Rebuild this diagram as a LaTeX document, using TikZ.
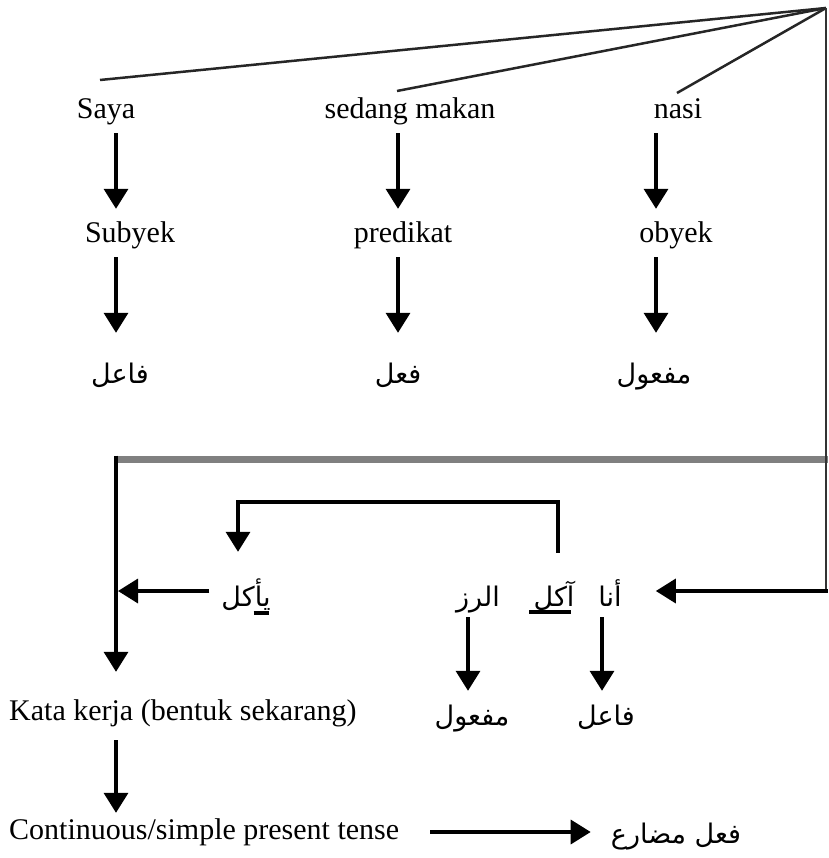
\documentclass[tikz,border=0pt]{standalone}
\usepackage{fontspec}
\setmainfont{Liberation Serif}
\newfontfamily\arabicfont[Script=Arabic]{DejaVu Sans}
\TeXXeTstate=1
\usetikzlibrary{arrows.meta,calc}
\begin{document}
\begin{tikzpicture}[x=1pt,y=-1pt,
  lat/.style={font=\fontsize{30}{34}\selectfont, inner sep=0pt, text height=21pt, text depth=7pt, anchor=base},
  ar/.style={font=\arabicfont\fontsize{27}{31}\selectfont, inner sep=0pt, text height=20pt, text depth=8pt, anchor=base},
  arr/.style={line width=3.5pt, -{Triangle[length=20pt,width=24pt]}},
  slant/.style={line width=2.5pt, black!85},
  uline/.style={line width=3.5pt},
  ]
\useasboundingbox (0,0) rectangle (828,858);
% column coordinates
\coordinate (cA) at (116,0);
\coordinate (cB) at (398,0);
\coordinate (cC) at (656,0);
\coordinate (cY) at (238,0);
\coordinate (cK) at (558,0);
\coordinate (cR) at (468,0);
\coordinate (cN) at (602,0);
\coordinate (top) at (826,8);
\coordinate (tS) at (100,80);
\coordinate (tM) at (397,91);
\coordinate (tN) at (677,93);
\coordinate (ghL) at (116,459);
\coordinate (ghR) at (828,459);
\coordinate (rc) at (826,591);
\coordinate (br) at (0,502);
% row 1
\node[lat] (saya) at (106,119) {Saya};
\node[lat] (sedang) at (410,119) {sedang makan};
\node[lat] (nasi) at (678,119) {nasi};
% row 2
\node[lat] (subyek) at (130,243) {Subyek};
\node[lat] (predikat) at (403,243) {predikat};
\node[lat] (obyek) at (676,243) {obyek};
% row 3
\node[ar] (fa1) at (120,383) {\beginR فاعل\endR};
\node[ar] (fi1) at (398,383) {\beginR فعل\endR};
\node[ar] (maf1) at (654,383) {\beginR مفعول\endR};
% middle row
\node[ar] (yakul) at (246,606) {\beginR يأكل\endR};
\node[ar] (ruzz) at (478,606) {\beginR الرز\endR};
\node[ar] (akul) at (554,606) {\beginR آكل\endR};
\node[ar] (ana) at (610,606) {\beginR أنا\endR};
% lower rows
\node[ar] (maf2) at (472,725) {\beginR مفعول\endR};
\node[ar] (fa2) at (606,725) {\beginR فاعل\endR};
\node[lat, anchor=base west] (kata) at (9,720) {Kata kerja (bentuk sekarang)};
\node[lat, anchor=base west] (cont) at (9,839) {Continuous/simple present tense};
\node[ar] (fimud) at (676,843) {\beginR فعل مضارع\endR};
% top slanted lines
\draw[slant] (top) -- (tS);
\draw[slant] (top) -- (tM);
\draw[slant] (top) -- (tN);
% column arrows
\draw[arr, shorten <=7pt, shorten >=13pt] (saya.south -| cA) -- (subyek.north -| cA);
\draw[arr, shorten <=7pt, shorten >=30pt] (subyek.south -| cA) -- (fa1.north -| cA);
\draw[arr, shorten <=7pt, shorten >=13pt] (sedang.south -| cB) -- (predikat.north -| cB);
\draw[arr, shorten <=7pt, shorten >=30pt] (predikat.south -| cB) -- (fi1.north -| cB);
\draw[arr, shorten <=7pt, shorten >=13pt] (nasi.south -| cC) -- (obyek.north -| cC);
\draw[arr, shorten <=7pt, shorten >=30pt] (obyek.south -| cC) -- (maf1.north -| cC);
% gray line and connectors
\draw[line width=7pt, gray] (ghL) -- (ghR);
\draw[arr, shorten <=-3.5pt, shorten >=27pt] (ghL) -- (kata.north -| cA);
\draw[line width=2.5pt, black!80] (top) -- (rc);
\draw[arr, shorten >=34pt] ([xshift=1.5pt]rc) -- (ana.east |- rc);
\draw[arr, shorten <=12pt, shorten >=2pt] (yakul.west |- rc) -- (cA |- rc);
\draw[arr, shorten <=33pt, shorten >=34pt] (akul.north -| cK) -- (cK |- br) -- (cY |- br) -- (yakul.north -| cY);
\draw[uline] ($(akul.base west)+(-4,6)$) -- ($(akul.base east)+(-4,6)$);
\draw[uline] ($(yakul.base east)+(-17,7)$) -- ($(yakul.base east)+(-2,7)$);
\draw[arr, shorten <=3pt, shorten >=14pt] (ruzz.south -| cR) -- (maf2.north -| cR);
\draw[arr, shorten <=3pt, shorten >=14pt] (ana.south -| cN) -- (fa2.north -| cN);
\draw[arr, shorten <=13pt, shorten >=5pt] (kata.south -| cA) -- (cont.north -| cA);
\draw[arr, shorten <=31pt, shorten >=20pt] (cont.east) -- (fimud.west |- cont.east);
\end{tikzpicture}
\end{document}
